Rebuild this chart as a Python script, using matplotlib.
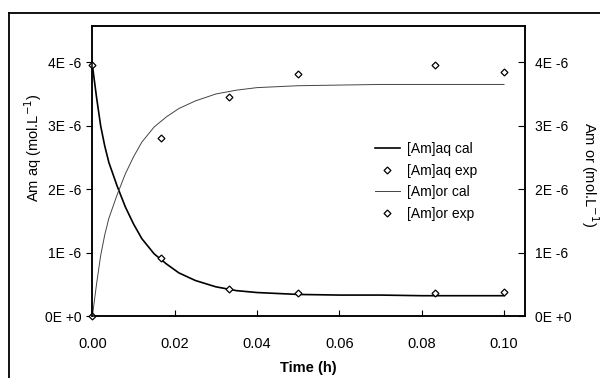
import matplotlib
matplotlib.use("Agg")
import matplotlib.pyplot as plt
from matplotlib.lines import Line2D

plt.rcParams['font.family'] = ['Liberation Sans', 'DejaVu Sans']

# experimental points (time in h, concentration in mol/L)
t_exp = [0.0, 0.0167, 0.0333, 0.05, 0.0833, 0.1]
aq_exp = [3.95e-6, 0.92e-6, 0.43e-6, 0.37e-6, 0.37e-6, 0.38e-6]
or_exp = [0.0, 2.81e-6, 3.45e-6, 3.82e-6, 3.96e-6, 3.85e-6]

# calculated curves
t_cal = [0.0, 0.001, 0.002, 0.003, 0.004, 0.006, 0.008, 0.010, 0.012, 0.015,
         0.018, 0.021, 0.025, 0.030, 0.035, 0.040, 0.050, 0.060, 0.070,
         0.080, 0.090, 0.100]
aq_cal = [3.95, 3.45, 3.00, 2.68, 2.42, 2.05, 1.72, 1.45, 1.22, 0.98,
          0.82, 0.68, 0.56, 0.46, 0.40, 0.37, 0.34, 0.33, 0.33,
          0.32, 0.32, 0.32]
or_cal = [0.00, 0.50, 0.95, 1.28, 1.54, 1.91, 2.24, 2.51, 2.74, 2.98,
          3.14, 3.27, 3.39, 3.50, 3.56, 3.60, 3.63, 3.64, 3.65,
          3.65, 3.65, 3.65]
aq_cal = [v * 1e-6 for v in aq_cal]
or_cal = [v * 1e-6 for v in or_cal]

xticks = [0.0, 0.02, 0.04, 0.06, 0.08, 0.10]
yticks = [0, 1e-6, 2e-6, 3e-6, 4e-6]
ytick_labels = ['0E +0', '1E -6', '2E -6', '3E -6', '4E -6']

fig = plt.figure(figsize=(6, 3.78), dpi=100)
ax = fig.add_axes([0.154, 0.164, 0.721, 0.767])

ax.plot(t_cal, aq_cal, '-', color='black', lw=1.2, label='[Am]aq cal')
ax.plot(t_exp, aq_exp, 'D', ms=3.5, mfc='white', mec='black', mew=0.9,
        ls='none', label='[Am]aq exp', clip_on=False, zorder=5)
ax.plot(t_cal, or_cal, '-', color='#444444', lw=0.7, label='[Am]or cal')
ax.plot(t_exp, or_exp, 'D', ms=3.5, mfc='white', mec='black', mew=0.9,
        ls='none', label='[Am]or exp', clip_on=False, zorder=5)

ax.set_xlim(0, 0.1051)
ax.set_ylim(0, 4.57e-6)
ax.set_xticks(xticks)
ax.set_xticklabels(['%.2f' % v for v in xticks], fontsize=10.5)
ax.set_yticks(yticks)
ax.set_yticklabels(ytick_labels, fontsize=10)
ax.tick_params(axis='x', direction='in', length=4, pad=15, top=False)
ax.tick_params(axis='y', direction='out', length=4, pad=4)
ax.set_xlabel('Time (h)', fontsize=10.5, fontweight='bold', labelpad=7)

ax2 = ax.twinx()
ax2.set_ylim(ax.get_ylim())
ax2.set_yticks(yticks)
ax2.set_yticklabels(ytick_labels, fontsize=10)
ax2.tick_params(axis='y', direction='in', length=5, pad=7)

for a in (ax, ax2):
    for s in a.spines.values():
        s.set_linewidth(1.1)

fig.text(33 / 600, 1 - 148 / 378, 'Am aq (mol.L$^{-1}$)', rotation=90,
         ha='center', va='center', fontsize=10.5)
fig.text(590 / 600, 1 - 175 / 378, 'Am or (mol.L$^{-1}$)', rotation=-90,
         ha='center', va='center', fontsize=10.5)

ax.legend(loc='center left', bbox_to_anchor=(368 / 600, 1 - 181.5 / 378),
          bbox_transform=fig.transFigure, frameon=False, fontsize=10,
          borderpad=0, handlelength=1.8, handletextpad=0.5, labelspacing=0.55)

# outer frame of the scanned figure
fig.add_artist(Line2D([0.015, 1.0], [0.9656, 0.9656], transform=fig.transFigure,
                      color='black', lw=1.3))
fig.add_artist(Line2D([0.015, 0.015], [0.0, 0.9656], transform=fig.transFigure,
                      color='black', lw=1.3))

fig.savefig('out.png', dpi=100)
